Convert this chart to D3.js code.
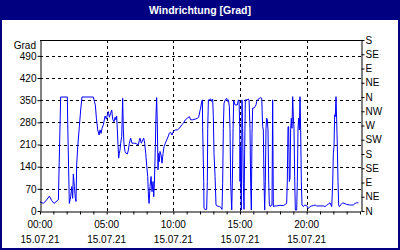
<!DOCTYPE html>
<html>
<head>
<meta charset="utf-8">
<script src="https://cdn.jsdelivr.net/npm/d3@7"></script>
<style>
  body { margin: 0; }
  svg text { font-family: "Liberation Sans", Arial, sans-serif; font-size: 10px; }
</style>
</head>
<body>
<svg id="svg" width="400" height="250"></svg>
<script>
// Stunden ab 00:00 am 15.07.21
const hours = [
  0.00, 0.25, 0.50, 0.70, 0.88, 1.05, 1.30, 1.38, 1.42, 1.55, 2.05, 2.08, 2.20, 2.30, 2.38, 2.45,
  2.50, 2.58, 2.65, 2.70, 2.75, 2.83, 2.95, 3.05, 3.15, 4.00, 4.08, 4.15, 4.23, 4.33, 4.43, 4.50,
  4.58, 4.65, 4.75, 4.88, 4.98, 5.05, 5.13, 5.20, 5.30, 5.38, 5.45, 5.55, 5.63, 5.70, 5.75, 5.80,
  5.85, 5.90, 5.95, 6.00, 6.05, 6.13, 6.20, 6.25, 6.30, 6.38, 6.45, 6.55, 6.63, 6.70, 6.80, 6.90,
  7.00, 7.13, 7.25, 7.38, 7.45, 7.50, 7.60, 7.70, 7.78, 7.85, 7.93, 8.00, 8.08, 8.13, 8.18, 8.25,
  8.33, 8.40, 8.48, 8.53, 8.58, 8.65, 8.70, 8.75, 8.80, 8.85, 8.90, 8.95, 9.00, 9.08, 9.15, 9.23,
  9.30, 9.40, 9.50, 9.63, 9.70, 9.80, 9.90, 10.00, 10.13, 10.30, 10.45, 10.63, 10.75, 10.90, 11.05, 11.20,
  11.30, 11.45, 11.63, 11.80, 11.90, 12.00, 12.05, 12.13, 12.18, 12.20, 12.28, 12.30, 12.38, 12.50, 12.55, 12.58,
  12.63, 12.70, 12.80, 12.88, 12.95, 13.00, 13.05, 13.13, 13.20, 13.30, 13.45, 13.55, 13.65, 13.70, 13.75, 13.80,
  13.90, 14.00, 14.08, 14.13, 14.20, 14.25, 14.30, 14.38, 14.43, 14.48, 14.53, 14.63, 14.70, 14.80, 14.88, 14.93,
  14.98, 15.00, 15.03, 15.05, 15.10, 15.15, 15.20, 15.25, 15.30, 15.35, 15.40, 15.45, 15.55, 15.60, 15.68, 15.75,
  15.80, 15.85, 15.90, 15.95, 16.05, 16.13, 16.20, 16.25, 16.38, 16.55, 16.63, 16.70, 16.75, 16.80, 16.85, 16.90,
  16.95, 17.00, 17.05, 17.10, 17.15, 17.20, 17.28, 17.35, 17.40, 17.45, 17.50, 17.63, 17.75, 18.00, 18.25, 18.50,
  18.55, 18.60, 18.65, 18.70, 18.75, 18.80, 18.85, 18.90, 18.95, 19.00, 19.05, 19.10, 19.15, 19.25, 19.30, 19.35,
  19.40, 19.45, 19.50, 19.55, 19.60, 19.65, 19.75, 19.85, 20.00, 20.13, 20.25, 20.38, 20.50, 20.63, 20.75, 21.00,
  21.25, 21.38, 21.50, 21.63, 21.75, 21.88, 21.95, 22.00, 22.05, 22.10, 22.15, 22.20, 22.25, 22.30, 22.35, 22.40,
  22.45, 22.55, 22.70, 22.80, 23.00, 23.20, 23.38, 23.50, 23.63, 23.75, 23.88
];
// Windrichtung in Grad
const grad = [
  29, 24, 35, 47, 33, 24, 33, 35, 114, 360, 360, 274, 24, 45, 77, 40,
  117, 77, 40, 30, 145, 203, 266, 319, 360, 360, 346, 335, 293, 256, 240, 256,
  245, 261, 272, 300, 290, 304, 314, 296, 309, 319, 290, 282, 296, 288, 300, 256,
  209, 167, 182, 193, 214, 235, 356, 256, 209, 188, 182, 180, 193, 214, 230, 214,
  214, 214, 212, 209, 224, 230, 214, 224, 230, 214, 182, 145, 109, 51, 24, 77,
  109, 61, 93, 45, 88, 203, 304, 358, 272, 130, 182, 156, 188, 177, 151, 182,
  203, 214, 224, 237, 246, 248, 240, 251, 256, 256, 261, 272, 277, 288, 293, 298,
  288, 288, 290, 293, 296, 317, 325, 346, 351, 263, 93, 8, 5, 5, 93, 261,
  351, 351, 354, 346, 353, 298, 182, 109, 19, 16, 14, 12, 5, 88, 261, 340,
  351, 356, 346, 351, 330, 261, 88, 3, 98, 261, 349, 335, 335, 335, 351, 346,
  266, 93, 203, 93, 3, 351, 261, 88, 5, 193, 351, 351, 351, 354, 351, 261,
  88, 3, 245, 325, 325, 330, 335, 346, 354, 358, 356, 267, 256, 93, 3, 93,
  261, 293, 288, 256, 98, 19, 14, 19, 19, 351, 14, 16, 16, 18, 17, 24,
  98, 266, 266, 93, 103, 261, 293, 261, 361, 298, 261, 109, 3, 3, 93, 261,
  293, 256, 361, 256, 93, 19, 14, 19, 17, 8, 14, 16, 17, 19, 16, 16,
  16, 14, 18, 22, 26, 14, 82, 182, 203, 304, 298, 361, 288, 203, 93, 19,
  14, 19, 26, 24, 21, 19, 19, 19, 24, 26, 26
];
const leftTicks = [0, 70, 140, 210, 280, 350, 420, 490];
const compassTicks = [0, 45, 90, 135, 180, 225, 270, 315, 360, 405, 450, 495, 540];
const compassNames = ['N', 'NE', 'E', 'SE', 'S', 'SW', 'W', 'NW', 'N', 'NE', 'E', 'SE', 'S'];
const xLabelHours = [0, 5, 10, 15, 20];
const xLabels = ['00:00', '05:00', '10:00', '15:00', '20:00'];
const dateLabel = '15.07.21';

const svg = d3.select('#svg');
const plotLeft = 40, plotRight = 361, plotTop = 40, plotBottom = 211;

// Rahmen und Titelleiste
svg.append('rect').attr('width', 400).attr('height', 250).attr('fill', '#000080');
svg.append('rect').attr('x', 2).attr('y', 20).attr('width', 396).attr('height', 228).attr('fill', '#ffffff');
svg.append('text')
  .attr('x', 200).attr('y', 14)
  .attr('text-anchor', 'middle')
  .attr('fill', '#ffffff')
  .style('font-size', '10.5px')
  .style('font-weight', 'bold')
  .text('Windrichtung [Grad]');

const x = d3.scaleLinear().domain([0, 24]).range([plotLeft, plotRight - 1]);
const y = d3.scaleLinear().domain([0, 540]).range([plotBottom, plotTop]);

// Gitterlinien gestrichelt
svg.append('g').selectAll('line')
  .data(leftTicks.filter(d => d > 0))
  .enter().append('line')
  .attr('x1', plotLeft).attr('x2', plotRight)
  .attr('y1', d => Math.round(y(d)) + 0.5).attr('y2', d => Math.round(y(d)) + 0.5)
  .attr('stroke', '#000').attr('stroke-dasharray', '3,3');

svg.append('g').selectAll('line')
  .data(xLabelHours.filter(d => d > 0))
  .enter().append('line')
  .attr('x1', d => Math.round(x(d)) + 0.5).attr('x2', d => Math.round(x(d)) + 0.5)
  .attr('y1', plotTop).attr('y2', plotBottom)
  .attr('stroke', '#000').attr('stroke-dasharray', '3,3');

// Messwerte
const line = d3.line()
  .x((d, i) => x(hours[i]))
  .y(d => y(d));

svg.append('path')
  .datum(grad)
  .attr('d', line)
  .attr('fill', 'none')
  .attr('stroke', '#0000ff')
  .attr('stroke-width', 1);

// Achsen
const yAxis = d3.axisLeft(y).tickValues(leftTicks).tickSize(3).tickSizeOuter(0);
const gy = svg.append('g').attr('transform', `translate(${plotLeft + 0.5},0)`).call(yAxis);

const compassAxis = d3.axisRight(y).tickValues(compassTicks).tickSize(3).tickSizeOuter(0)
  .tickFormat((d, i) => compassNames[i]);
const gr = svg.append('g').attr('transform', `translate(${plotRight + 0.5},0)`).call(compassAxis);

const xAxis = d3.axisBottom(x).tickValues(d3.range(0, 25)).tickSize(3).tickSizeOuter(0).tickFormat('');
const gx = svg.append('g').attr('transform', `translate(0,${plotBottom + 0.5})`).call(xAxis);

[gy, gr, gx].forEach(g => {
  g.selectAll('text').style('font-size', '10px').style('font-family', '"Liberation Sans", Arial, sans-serif').attr('fill', '#000');
  g.selectAll('.tick line').attr('stroke', '#000');
  g.select('.domain').attr('stroke', '#000');
});
gy.selectAll('text').attr('x', -4);
gr.selectAll('text').attr('x', 4);

// obere Rahmenlinie
svg.append('line')
  .attr('x1', plotLeft).attr('x2', plotRight + 1)
  .attr('y1', plotTop + 0.5).attr('y2', plotTop + 0.5)
  .attr('stroke', '#000');

svg.append('text')
  .attr('x', 36).attr('y', 49)
  .attr('text-anchor', 'end')
  .text('Grad');

// Zeitbeschriftung
const xl = svg.append('g').selectAll('g')
  .data(xLabelHours)
  .enter().append('g');
xl.append('text')
  .attr('x', d => x(d)).attr('y', 228)
  .attr('text-anchor', 'middle')
  .text((d, i) => xLabels[i]);
xl.append('text')
  .attr('x', d => x(d)).attr('y', 243)
  .attr('text-anchor', 'middle')
  .text(dateLabel);
</script>
</body>
</html>
